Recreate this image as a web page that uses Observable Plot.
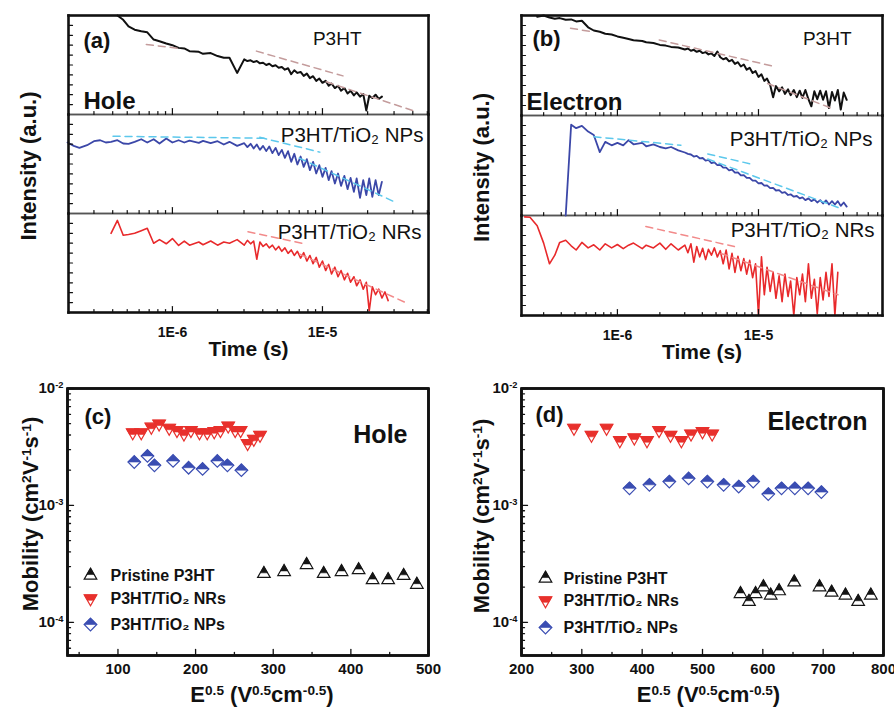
<!DOCTYPE html>
<html><head><meta charset="utf-8">
<script src="https://cdn.jsdelivr.net/npm/d3@7"></script>
<script src="https://cdn.jsdelivr.net/npm/@observablehq/plot@0.6"></script>
<style>
body{margin:0;background:#fff;}
#fig{position:relative;width:894px;height:708px;background:#fff;}
#fig svg{position:absolute;}
</style></head><body><div id="fig"></div>
<script>
// ---------- transient photocurrent data (time grid shared by panels a and b) ----------
const time = [2.0e-7,2.2e-7,2.4e-7,2.7e-7,3.0e-7,3.3e-7,3.6e-7,3.9e-7,4.3e-7,4.7e-7,5.1e-7,5.6e-7,6.2e-7,6.8e-7,7.5e-7,8.2e-7,9.1e-7,
 1.0e-6,1.1e-6,1.2e-6,1.3e-6,1.5e-6,1.6e-6,1.8e-6,2.0e-6,2.2e-6,2.4e-6,2.7e-6,
 3.01e-6,3.16e-6,3.32e-6,3.48e-6,3.65e-6,3.83e-6,4.02e-6,4.22e-6,4.42e-6,4.64e-6,4.87e-6,5.11e-6,5.36e-6,5.62e-6,5.90e-6,6.19e-6,6.49e-6,6.81e-6,7.15e-6,7.50e-6,7.87e-6,8.25e-6,8.66e-6,9.09e-6,9.53e-6,
 1.00e-5,1.05e-5,1.10e-5,1.15e-5,1.21e-5,1.27e-5,1.33e-5,1.40e-5,1.47e-5,1.54e-5,1.62e-5,1.69e-5,1.78e-5,1.87e-5,1.96e-5,2.05e-5,2.15e-5,2.26e-5,2.37e-5,2.49e-5,2.61e-5,2.74e-5,2.87e-5,3.01e-5,3.16e-5,3.32e-5,3.48e-5,3.65e-5,3.83e-5,4.02e-5,4.22e-5,4.42e-5];

const samples = ["P3HT", "NPs", "NRs"];
const sampleLabels = ["P3HT", "P3HT/TiO\u2082 NPs", "P3HT/TiO\u2082 NRs"];

// Hole (panel a), normalized intensity (a.u.)
const holeP3HT = [null,null,null,null,null,null,null,null,1.0,0.957,0.89,0.857,0.84,0.83,0.757,0.74,0.717,0.70,0.673,0.667,0.64,0.633,0.613,0.62,0.59,0.573,0.573,0.42,0.557,0.54,0.547,0.53,0.54,0.517,0.523,0.50,0.513,0.487,0.497,0.473,0.48,0.453,0.467,0.407,0.447,0.42,0.43,0.39,0.413,0.367,0.387,0.34,0.363,0.32,0.34,0.29,0.313,0.267,0.29,0.24,0.267,0.213,0.24,0.193,0.223,0.18,0.207,0.04,0.19,0.167,0.2,0.157,0.18];
const holeNPs = [0.717,0.683,0.663,0.69,0.73,0.74,0.717,0.724,0.74,0.707,0.704,0.724,0.75,0.717,0.75,0.707,0.758,0.717,0.74,0.717,0.737,0.714,0.734,0.71,0.73,0.697,0.724,0.683,0.71,0.67,0.704,0.657,0.697,0.643,0.683,0.63,0.677,0.61,0.663,0.59,0.643,0.562,0.63,0.522,0.603,0.495,0.576,0.471,0.549,0.438,0.522,0.404,0.488,0.37,0.461,0.337,0.428,0.303,0.404,0.279,0.38,0.246,0.36,0.219,0.354,0.158,0.337,0.185,0.354,0.168,0.337,0.185,0.32];
const holeNRs = [null,null,null,null,null,null,null,0.80,0.93,0.78,0.788,0.80,0.826,0.85,0.70,0.736,0.694,0.747,0.677,0.722,0.68,0.712,0.684,0.722,0.68,0.712,0.70,0.736,0.68,0.729,0.694,0.722,0.538,0.712,0.667,0.694,0.653,0.68,0.632,0.667,0.618,0.653,0.597,0.632,0.576,0.618,0.549,0.604,0.52,0.576,0.493,0.556,0.458,0.52,0.424,0.486,0.389,0.458,0.361,0.424,0.33,0.396,0.306,0.361,0.27,0.33,0.236,0.306,0.017,0.26,0.18,0.236,0.146,0.208,0.12];
// Electron (panel b)
const elecP3HT = [null,null,null,0.987,1.0,0.98,0.967,0.974,0.958,0.961,0.941,0.948,0.882,0.85,0.837,0.817,0.81,0.791,0.778,0.765,0.752,0.745,0.732,0.725,0.706,0.699,0.686,0.68,0.66,0.67,0.647,0.657,0.637,0.647,0.624,0.634,0.611,0.621,0.595,0.64,0.582,0.562,0.575,0.542,0.556,0.516,0.533,0.49,0.51,0.458,0.477,0.425,0.444,0.386,0.412,0.346,0.369,0.304,0.183,0.294,0.242,0.281,0.216,0.261,0.203,0.255,0.183,0.248,0.176,0.255,0.163,0.092,0.242,0.163,0.248,0.157,0.242,0.075,0.235,0.15,0.255,0.059,0.229,0.157];
const elecNPs = [null,null,null,null,null,null,null,null,0.0,0.908,0.873,0.897,0.839,0.805,0.634,0.736,0.702,0.726,0.702,0.753,0.712,0.726,0.692,0.712,0.685,0.671,0.685,0.651,0.63,0.616,0.61,0.589,0.596,0.572,0.575,0.548,0.555,0.524,0.531,0.503,0.507,0.479,0.479,0.452,0.459,0.428,0.432,0.401,0.404,0.377,0.377,0.349,0.349,0.322,0.325,0.298,0.301,0.274,0.277,0.25,0.253,0.226,0.233,0.205,0.212,0.188,0.195,0.171,0.182,0.154,0.171,0.144,0.161,0.13,0.154,0.12,0.151,0.11,0.144,0.11,0.144,0.096,0.13,0.089];
const elecNRs = [null,0.986,0.983,0.897,0.724,0.517,0.603,0.731,0.752,0.697,0.655,0.731,0.676,0.707,0.655,0.717,0.676,0.71,0.669,0.703,0.724,0.669,0.703,0.676,0.724,0.662,0.717,0.655,0.703,0.628,0.717,0.534,0.69,0.586,0.672,0.559,0.662,0.603,0.676,0.586,0.648,0.517,0.655,0.466,0.621,0.431,0.593,0.448,0.569,0.414,0.552,0.379,0.517,0.0,0.586,0.207,0.483,0.241,0.431,0.172,0.397,0.138,0.414,0.19,0.345,0.0,0.379,0.207,0.414,0.138,0.517,0.172,0.362,0.017,0.379,0.155,0.431,0.19,0.517,0.0,0.431];

// dashed tangent lines: [sample, segment, time, intensity]
const holeFits = [
 ["P3HT",1,6.7e-7,0.707],["P3HT",1,1.12e-6,0.667],
 ["P3HT",2,3.63e-6,0.64],["P3HT",2,1.37e-5,0.39],
 ["P3HT",3,1.06e-5,0.33],["P3HT",3,4.0e-5,0.04],
 ["NPs",1,4.02e-7,0.78],["NPs",1,4.24e-6,0.76],
 ["NPs",2,3.82e-6,0.77],["NPs",2,9.6e-6,0.62],
 ["NPs",3,7.0e-6,0.56],["NPs",3,3.1e-5,0.11],
 ["NRs",1,3.19e-6,0.816],["NRs",1,7.62e-6,0.694],
 ["NRs",2,7.06e-6,0.59],["NRs",2,3.54e-5,0.104]];
const elecFits = [
 ["P3HT",1,4.65e-7,0.873],["P3HT",1,6.46e-7,0.84],
 ["P3HT",2,1.98e-6,0.755],["P3HT",2,1.3e-5,0.49],
 ["P3HT",3,1.16e-5,0.32],["P3HT",3,3.47e-5,0.06],
 ["NPs",1,6.82e-7,0.788],["NPs",1,2.82e-6,0.702],
 ["NPs",2,4.37e-6,0.616],["NPs",2,8.87e-6,0.514],
 ["NPs",3,4.37e-6,0.565],["NPs",3,3.87e-5,0.068],
 ["NRs",1,1.59e-6,0.89],["NRs",1,6.75e-6,0.69],
 ["NRs",2,5.43e-6,0.62],["NRs",2,3.66e-5,0.207]];

const timeMajor = [1e-6, 1e-5];
const timeMajorLabels = ["1E-6", "1E-5"];
const timeMinorA = [3e-7,4e-7,5e-7,6e-7,7e-7,8e-7,9e-7,2e-6,3e-6,4e-6,5e-6,6e-6,7e-6,8e-6,9e-6,2e-5,3e-5,4e-5,5e-5];
const timeMinorB = [3e-7,4e-7,5e-7,6e-7,7e-7,8e-7,9e-7,2e-6,3e-6,4e-6,5e-6,6e-6,7e-6,8e-6,9e-6,2e-5,3e-5,4e-5,5e-5,6e-5,7e-5];
const intensityTicks = [0.1,0.2,0.3,0.4,0.5,0.6,0.7,0.8,0.9];

// ---------- mobility data ----------
const holeE_P3HT = [288,314,343,365,388,410,428,448,468,485];
const holeMu_P3HT = [2.6e-4,2.7e-4,3.1e-4,2.6e-4,2.7e-4,2.8e-4,2.3e-4,2.3e-4,2.5e-4,2.1e-4];
const holeE_NRs = [119,130,143,153,166,176,185,194,205,215,224,232,242,251,258,267,275,283];
const holeMu_NRs = [4.2e-3,4.2e-3,4.7e-3,5.0e-3,4.6e-3,4.4e-3,4.1e-3,4.4e-3,4.2e-3,4.2e-3,4.3e-3,4.4e-3,4.8e-3,4.4e-3,4.4e-3,3.4e-3,3.7e-3,4.0e-3];
const holeE_NPs = [121,138,147,171,191,209,228,241,259];
const holeMu_NPs = [2.35e-3,2.65e-3,2.2e-3,2.4e-3,2.1e-3,2.05e-3,2.4e-3,2.2e-3,2.0e-3];
const elecE_P3HT = [563,577,588,601,613,627,652,694,714,737,758,779];
const elecMu_P3HT = [1.75e-4,1.5e-4,1.75e-4,2.0e-4,1.7e-4,1.85e-4,2.2e-4,2.0e-4,1.8e-4,1.7e-4,1.5e-4,1.7e-4];
const elecE_NRs = [287,316,341,363,387,408,428,447,465,481,500,516];
const elecMu_NRs = [4.6e-3,4.0e-3,4.6e-3,3.6e-3,3.8e-3,3.6e-3,4.4e-3,4.0e-3,3.6e-3,4.1e-3,4.3e-3,4.1e-3];
const elecE_NPs = [379,412,445,477,508,535,560,584,609,631,653,675,697];
const elecMu_NPs = [1.4e-3,1.5e-3,1.6e-3,1.7e-3,1.6e-3,1.5e-3,1.45e-3,1.6e-3,1.25e-3,1.4e-3,1.4e-3,1.4e-3,1.3e-3];

const legendLabels = ["Pristine P3HT", "P3HT/TiO\u2082 NRs", "P3HT/TiO\u2082 NPs"];
const mobDomain = [5.2e-5, 1e-2];
const mobMajor = [1e-4, 1e-3, 1e-2];
const mobMajorLabels = ["10^{-4}", "10^{-3}", "10^{-2}"];
const mobMinor = [6e-5,7e-5,8e-5,9e-5,2e-4,3e-4,4e-4,5e-4,6e-4,7e-4,8e-4,9e-4,2e-3,3e-3,4e-3,5e-3,6e-3,7e-3,8e-3,9e-3];
const holeEMajor = [100,200,300,400,500];
const holeEMinor = [50,150,250,350,450];
const elecEMajor = [200,300,400,500,600,700,800];
const elecEMinor = [250,350,450,550,650,750];

const panelTags = ["(a)", "(b)", "(c)", "(d)"];
const carriers = ["Hole", "Electron"];
const intensityTitle = "Intensity (a.u.)";
const timeTitle = "Time (s)";
const mobilityTitle = "Mobility (cm^{2}V^{-1}s^{-1})";
const fieldTitle = "E^{0.5} (V^{0.5}cm^{-0.5})";

// ---------- styling ----------
const FONT = "'Liberation Sans', Arial, Helvetica, sans-serif";
const INK = "#111111";
const traceColors = ["#111111", "#3b47a8", "#e8292b"];
const traceWidths = [2.0, 1.8, 1.6];
const fitColors = ["#c49c9c", "#5cc8ec", "#f28a8a"];
const RED = "#e8302c", BLUE = "#3a4db2", BLACK = "#151515";

const fig = document.getElementById("fig");
const SVGNS = "http://www.w3.org/2000/svg";
// turn "^{...}" markers into real superscript tspans
function supify(svg) {
  svg.querySelectorAll("text").forEach(t => {
    const s = t.textContent;
    if (!s.includes("^{")) return;
    const parts = s.split(/(\^\{[^}]*\})/);
    while (t.firstChild) t.removeChild(t.firstChild);
    parts.forEach(p => {
      if (!p) return;
      const ts = document.createElementNS(SVGNS, "tspan");
      if (p.startsWith("^{")) {
        ts.textContent = p.slice(2, -1);
        ts.setAttribute("font-size", "62%");
        ts.setAttribute("baseline-shift", "super");
      } else ts.textContent = p;
      t.appendChild(ts);
    });
  });
}
function place(svg, left, top) {
  supify(svg);
  svg.style.left = left + "px";
  svg.style.top = top + "px";
  fig.appendChild(svg);
}
function toRows(sample, vals) {
  const out = [];
  vals.forEach((v, i) => { if (v != null) out.push({sample, t: time[i], v}); });
  return out;
}
function segs(list) {
  const out = [];
  list.forEach(([g, xa, ya, xb, yb, sample]) => { out.push({g, x: xa, y: ya, sample}); out.push({g, x: xb, y: yb, sample}); });
  return out;
}

function tracePanel(cfg) {
  const [mt, mr, mb, ml] = cfg.margins;
  const [x0, x1] = cfg.xDomain;
  const decadePx = (cfg.width - ml - mr) / Math.log10(x1 / x0);
  const kx = Math.pow(10, 4 / decadePx);
  const facetPx = (cfg.height - mt - mb) / 3;
  const majLen = 6 / facetPx, minLen = 3 / facetPx;
  const inner = [], outer = [], ticks = [];
  samples.forEach(s => {
    inner.push([s + "b", x0, 0, x1, 0, s], [s + "t", x0, 1, x1, 1, s]);
    outer.push([s + "L", x0, 0, x0, 1, s], [s + "R", x1, 0, x1, 1, s]);
    timeMajor.forEach(t => ticks.push([s + "M" + t, t, 0, t, majLen, s]));
    cfg.xMinor.forEach(t => ticks.push([s + "m" + t, t, 0, t, minLen, s]));
    intensityTicks.forEach(v => ticks.push([s + "y" + v, x0, v, x0 * kx, v, s]));
  });
  outer.push(["topT", x0, 1, x1, 1, "P3HT"], ["botB", x0, 0, x1, 0, "NRs"]);
  const marks = [
    Plot.line(segs(inner), {x: "x", y: "y", z: "g", fy: "sample", stroke: "#555555", strokeWidth: 1.3})
  ];
  samples.forEach((s, k) => {
    marks.push(Plot.line(toRows(s, cfg.traces[k]), {x: "t", y: "v", fy: "sample", stroke: traceColors[k], strokeWidth: traceWidths[k], strokeLinejoin: "round"}));
  });
  samples.forEach((s, k) => {
    const fr = cfg.fits.filter(f => f[0] === s).map(([sample, seg, t, v]) => ({sample, seg, t, v}));
    marks.push(Plot.line(fr, {x: "t", y: "v", z: "seg", fy: "sample", stroke: fitColors[k], strokeWidth: 1.5, strokeDasharray: "7,5"}));
  });
  marks.push(
    Plot.line(segs(ticks), {x: "x", y: "y", z: "g", fy: "sample", stroke: INK, strokeWidth: 1.2}),
    Plot.line(segs(outer), {x: "x", y: "y", z: "g", fy: "sample", stroke: INK, strokeWidth: 2.6, strokeLinecap: "square"}),
    Plot.axisX(timeMajor, {tickSize: 0, tickPadding: 15, tickFormat: d => timeMajorLabels[timeMajor.indexOf(d)], fontSize: 14, fontWeight: "bold", fill: INK, label: null})
  );
  samples.forEach((s, k) => {
    const [dx, dy] = cfg.labelPos[k];
    marks.push(Plot.text([{sample: s, label: sampleLabels[k]}], {fy: "sample", text: "label", frameAnchor: "top-right", dx, dy, textAnchor: "end", lineAnchor: "middle", fontSize: k === 0 ? 19 : 20.5, fill: INK}));
  });
  marks.push(
    Plot.text([{sample: "P3HT", label: cfg.tag}], {fy: "sample", text: "label", frameAnchor: "top-left", dx: cfg.tagPos[0], dy: cfg.tagPos[1], textAnchor: "start", lineAnchor: "middle", fontSize: 22, fontWeight: "bold", fill: INK}),
    Plot.text([{sample: "P3HT", label: cfg.carrier}], {fy: "sample", text: "label", frameAnchor: "bottom-left", dx: cfg.carrierPos[0], dy: cfg.carrierPos[1], textAnchor: "start", lineAnchor: "middle", fontSize: 24, fontWeight: "bold", fill: INK}),
    Plot.text([{sample: "NPs", label: intensityTitle}], {fy: "sample", text: "label", frameAnchor: "left", dx: cfg.yTitleDx, dy: 2, rotate: -90, textAnchor: "middle", lineAnchor: "middle", fontSize: 22, fontWeight: "bold", fill: INK}),
    Plot.text([{sample: "NRs", label: timeTitle}], {fy: "sample", text: "label", frameAnchor: "bottom", dx: 0, dy: 37, textAnchor: "middle", lineAnchor: "middle", fontSize: 21, fontWeight: "bold", fill: INK})
  );
  return Plot.plot({
    width: cfg.width, height: cfg.height,
    marginTop: mt, marginRight: mr, marginBottom: mb, marginLeft: ml,
    style: {fontFamily: FONT, color: INK, overflow: "visible"},
    x: {type: "log", domain: cfg.xDomain, label: null},
    y: {domain: [0, 1], label: null, axis: null},
    fy: {domain: samples, padding: 0, axis: null, label: null},
    marks
  });
}

// custom half-filled symbols (r = sqrt(size/PI))
const sym = fn => ({draw(ctx, size) { fn(ctx, Math.sqrt(size / Math.PI)); }});
const triUpFull = sym((c, r) => { const w = r, h = 1.75 * r; c.moveTo(0, -2 * h / 3); c.lineTo(w, h / 3); c.lineTo(-w, h / 3); c.closePath(); });
const triUpHalf = sym((c, r) => { const w = r, h = 1.75 * r, yc = -2 * h / 3 + 0.58 * h; c.moveTo(0, -2 * h / 3); c.lineTo(0.58 * w, yc); c.lineTo(-0.58 * w, yc); c.closePath(); });
const triDownFull = sym((c, r) => { const w = r, h = 1.75 * r; c.moveTo(-w, -h / 3); c.lineTo(w, -h / 3); c.lineTo(0, 2 * h / 3); c.closePath(); });
const triDownHalf = sym((c, r) => { const w = r, h = 1.75 * r, yc = -h / 3 + 0.5 * h; c.moveTo(-w, -h / 3); c.lineTo(w, -h / 3); c.lineTo(0.5 * w, yc); c.lineTo(-0.5 * w, yc); c.closePath(); });
const diaFull = sym((c, r) => { c.moveTo(0, -r); c.lineTo(r, 0); c.lineTo(0, r); c.lineTo(-r, 0); c.closePath(); });
const diaHalf = sym((c, r) => { c.moveTo(0, -r); c.lineTo(r, 0); c.lineTo(-r, 0); c.closePath(); });

function mobilityPanel(cfg) {
  const [mt, mr, mb, ml] = cfg.margins;
  const [x0, x1] = cfg.xDomain;
  const [y0, y1] = mobDomain;
  const plotW = cfg.width - ml - mr, plotH = cfg.height - mt - mb;
  const pxPerX = plotW / (x1 - x0);
  const decadePx = plotH / Math.log10(y1 / y0);
  const kMaj = Math.pow(10, 6 / decadePx), kMin = Math.pow(10, 3 / decadePx);
  const ticks = [];
  cfg.xMajor.forEach(x => ticks.push(["M" + x, x, y0, x, y0 * kMaj]));
  cfg.xMinor.forEach(x => ticks.push(["m" + x, x, y0, x, y0 * kMin]));
  mobMajor.forEach(y => ticks.push(["Y" + y, x0, y, x0 + 6 / pxPerX, y]));
  mobMinor.forEach(y => ticks.push(["y" + y, x0, y, x0 + 3 / pxPerX, y]));
  const frameRows = [[x0, y0], [x1, y0], [x1, y1], [x0, y1], [x0, y0]].map(([x, y]) => ({x, y}));
  const marks = [
    Plot.frame({stroke: INK, strokeWidth: 2.6}),
    Plot.line(segs(ticks), {x: "x", y: "y", z: "g", stroke: INK, strokeWidth: 1.3}),
    Plot.line(frameRows, {x: "x", y: "y", stroke: INK, strokeWidth: 2.6, strokeLinejoin: "miter"}),
    Plot.axisX(cfg.xMajor, {tickSize: 0, tickPadding: 8, fontSize: 15, fontWeight: "bold", fill: INK, label: null}),
    Plot.axisY(mobMajor, {tickSize: 0, tickPadding: 4, tickFormat: d => mobMajorLabels[mobMajor.indexOf(d)], fontSize: 15, fontWeight: "bold", fill: INK, label: null})
  ];
  cfg.series.forEach((s, i) => {
    const rows = s.xs.map((x, j) => ({x, y: s.ys[j]}));
    marks.push(
      Plot.dot(rows, {x: "x", y: "y", r: 6.3, symbol: s.full, stroke: s.color, fill: "white", strokeWidth: 1.2}),
      Plot.dot(rows, {x: "x", y: "y", r: 6.3, symbol: s.half, fill: s.color, stroke: s.color, strokeWidth: 0.6})
    );
    const dy = cfg.legendDy[i];
    marks.push(
      Plot.dot([legendLabels[i]], {frameAnchor: "top-left", dx: cfg.legendX[0], dy, r: 6.3, symbol: s.full, stroke: s.color, fill: "white", strokeWidth: 1.2}),
      Plot.dot([legendLabels[i]], {frameAnchor: "top-left", dx: cfg.legendX[0], dy, r: 6.3, symbol: s.half, fill: s.color, stroke: s.color, strokeWidth: 0.6}),
      Plot.text([legendLabels[i]], {frameAnchor: "top-left", dx: cfg.legendX[1], dy, text: d => d, textAnchor: "start", lineAnchor: "middle", fontSize: 16, fontWeight: "bold", fill: INK})
    );
  });
  marks.push(
    Plot.text([cfg.tag], {frameAnchor: "top-left", dx: cfg.tagPos[0], dy: cfg.tagPos[1], text: d => d, textAnchor: "start", lineAnchor: "middle", fontSize: 22, fontWeight: "bold", fill: INK}),
    Plot.text([cfg.carrier], {frameAnchor: "top-right", dx: cfg.carrierPos[0], dy: cfg.carrierPos[1], text: d => d, textAnchor: "end", lineAnchor: "middle", fontSize: 25, fontWeight: "bold", fill: INK}),
    Plot.text([mobilityTitle], {frameAnchor: "left", dx: cfg.yTitle[0], dy: cfg.yTitle[1], rotate: -90, text: d => d, textAnchor: "middle", lineAnchor: "middle", fontSize: 22, fontWeight: "bold", fill: INK}),
    Plot.text([fieldTitle], {frameAnchor: "bottom", dx: cfg.xTitleDx, dy: 39, text: d => d, textAnchor: "middle", lineAnchor: "middle", fontSize: 22, fontWeight: "bold", fill: INK})
  );
  return Plot.plot({
    width: cfg.width, height: cfg.height,
    marginTop: mt, marginRight: mr, marginBottom: mb, marginLeft: ml,
    style: {fontFamily: FONT, color: INK, overflow: "visible"},
    x: {domain: cfg.xDomain, label: null},
    y: {type: "log", domain: mobDomain, label: null},
    marks
  });
}

// ---------- build panels ----------
place(tracePanel({
  width: 447, height: 362,
  traces: [holeP3HT, holeNPs, holeNRs], fits: holeFits,
  xDomain: [2.03e-7, 5.09e-5], xMinor: timeMinorA,
  margins: [14, 19, 49, 68],
  labelPos: [[-67, 23], [-5, 21], [-7, 19]],
  tag: panelTags[0], tagPos: [15, 25],
  carrier: carriers[0], carrierPos: [15, -13],
  yTitleDx: -40
}), 0, 0);

place(tracePanel({
  width: 447, height: 362,
  traces: [elecP3HT, elecNPs, elecNRs], fits: elecFits,
  xDomain: [2.09e-7, 7.57e-5], xMinor: timeMinorB,
  margins: [14, 12, 47, 74],
  labelPos: [[-31, 23], [-10, 24], [-8, 15]],
  tag: panelTags[1], tagPos: [11, 23],
  carrier: carriers[1], carrierPos: [5, -13],
  yTitleDx: -40
}), 447, 0);

place(mobilityPanel({
  width: 447, height: 346,
  series: [
    {xs: holeE_P3HT, ys: holeMu_P3HT, color: BLACK, full: triUpFull, half: triUpHalf},
    {xs: holeE_NRs, ys: holeMu_NRs, color: RED, full: triDownFull, half: triDownHalf},
    {xs: holeE_NPs, ys: holeMu_NPs, color: BLUE, full: diaFull, half: diaHalf}
  ],
  xDomain: [35, 500], xMajor: holeEMajor, xMinor: holeEMinor,
  margins: [26, 19, 53, 67],
  legendX: [23, 43], legendDy: [187, 210, 236],
  tag: panelTags[2], tagPos: [17, 28],
  carrier: carriers[0], carrierPos: [-21, 46],
  yTitle: [-37, -8], xTitleDx: 14
}), 0, 362);

place(mobilityPanel({
  width: 447, height: 346,
  series: [
    {xs: elecE_P3HT, ys: elecMu_P3HT, color: BLACK, full: triUpFull, half: triUpHalf},
    {xs: elecE_NRs, ys: elecMu_NRs, color: RED, full: triDownFull, half: triDownHalf},
    {xs: elecE_NPs, ys: elecMu_NPs, color: BLUE, full: diaFull, half: diaHalf}
  ],
  xDomain: [200, 800], xMajor: elecEMajor, xMinor: elecEMinor,
  margins: [26, 11, 53, 74],
  legendX: [24, 42], legendDy: [190, 212, 239],
  tag: panelTags[3], tagPos: [14, 26],
  carrier: carriers[1], carrierPos: [-16, 33],
  yTitle: [-40, -6], xTitleDx: 6
}), 447, 362);
</script></body></html>
